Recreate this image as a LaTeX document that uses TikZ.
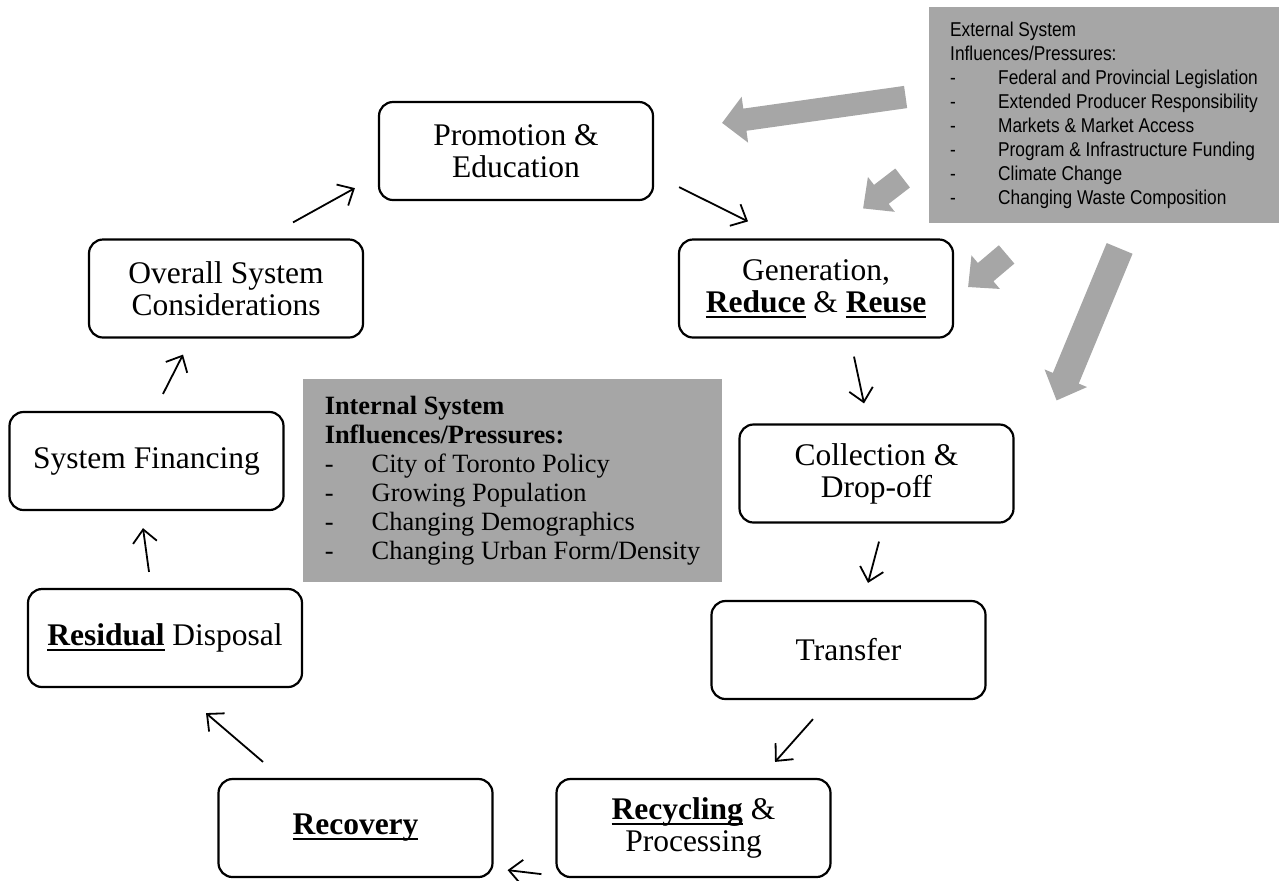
\documentclass[tikz,border=0pt]{standalone}
\usepackage{fontspec}
\setmainfont{Liberation Serif}
\newfontfamily\extfont[FakeStretch=0.865]{Liberation Sans}
\usetikzlibrary{arrows.meta,calc}
\definecolor{pressgray}{RGB}{166,166,166}
\newcommand{\keyword}[1]{\leavevmode\setbox0\hbox{\textbf{#1}}\rlap{\rule[-2.6pt]{\wd0}{1pt}}\box0\relax}
\newcommand{\itemdash}[1]{\makebox[#1][l]{-}}
% grey block arrow: tail, tip, half shaft, half head, head length
\newcommand{\blockarrow}[5]{%
  \coordinate (neck) at ($(#2)!#5!(#1)$);
  \fill[pressure] ($(#1)!#3!90:(#2)$) -- ($(neck)!#3!90:(#2)$) -- ($(neck)!#4!90:(#2)$)
    -- (#2) -- ($(neck)!#4!-90:(#2)$) -- ($(neck)!#3!-90:(#2)$) -- ($(#1)!#3!-90:(#2)$) -- cycle;
}
\begin{document}
\begin{tikzpicture}[x=0.5pt,y=-0.5pt,
  stage/.style={draw,line width=1.1pt,rounded corners=7pt,minimum width=137pt,
    minimum height=49pt,inner sep=0pt,align=center,
    font=\fontsize{15.75}{16}\selectfont},
  flow/.style={line width=0.9pt,-{Straight Barb[length=6.5pt,width=12pt]}},
  pressure/.style={fill=pressgray},
  panel/.style={fill=pressgray,inner sep=0pt,align=left}]
\useasboundingbox (0,0) rectangle (1283,880);

% the cycle
\node[stage] (promo) at (516,151) {Promotion \&\\Education};
\node[stage] (overall) at (226,288.5) {Overall System\\Considerations};
\node[stage] (gen) at (816,288.5) {Generation,\\\keyword{Reduce} \& \keyword{Reuse}};
\node[stage] (fin) at (146.5,461) {System Financing};
\node[stage] (coll) at (876.5,473.5) {Collection \&\\Drop-off};
\node[stage] (resid) at (165,638) {\keyword{Residual} Disposal};
\node[stage] (transfer) at (848.5,650) {Transfer};
\node[stage] (recov) at (355.5,828) {\keyword{Recovery}};
\node[stage] (recyc) at (693.5,828) {\keyword{Recycling} \&\\Processing};

\draw[flow] ([shift={(16.5,-17)}]fin.north) -- ([shift={(-43,16)}]overall.south);
\draw[flow] ([shift={(67,-16)}]overall.north) -- ([shift={(-23,-13)}]promo.south west);
\draw[flow] ([shift={(25,-14)}]promo.south east) -- ([shift={(-68,-17)}]gen.north);
\draw[flow] ([shift={(38,18)}]gen.south) -- ([shift={(-12.5,-20)}]coll.north);
\draw[flow] ([shift={(2.5,18)}]coll.south) -- ([shift={(19.5,-17)}]transfer.north);
\draw[flow] ([shift={(-35.5,19)}]transfer.south) -- ([shift={(81.5,-16)}]recyc.north);
\draw[flow] ([shift={(-14,-4)}]recyc.south west) -- ([shift={(14,-8)}]recov.south east);
\draw[flow] ([shift={(-92.5,-16)}]recov.north) -- ([shift={(41,25)}]resid.south);
\draw[flow] ([shift={(-16,-16)}]resid.north) -- ([shift={(-3.5,17)}]fin.south);

% pressures
\node[panel,minimum width=209.5pt,minimum height=101.5pt,
  font=\fontsize{13.2}{14.5}\selectfont] (internal) at (512.5,480.5)
  {\textbf{Internal System}\\
   \textbf{Influences/Pressures:}\\
   \itemdash{23.5pt}City of Toronto Policy\\
   \itemdash{23.5pt}Growing Population\\
   \itemdash{23.5pt}Changing Demographics\\
   \itemdash{23.5pt}Changing Urban Form/Density};
\node[panel,minimum width=175pt,minimum height=108pt,
  font=\extfont\fontsize{10}{12}\selectfont] (external) at (1104,115)
  {External System\\
   Influences/Pressures:\\
   \itemdash{24pt}Federal and Provincial Legislation\\
   \itemdash{24pt}Extended Producer Responsibility\\
   \itemdash{24pt}Markets \& Market Access\\
   \itemdash{24pt}Program \& Infrastructure Funding\\
   \itemdash{24pt}Climate Change\\
   \itemdash{24pt}Changing Waste Composition};

\coordinate (ext-a) at ([shift={(-23,-18)}]external.west);
\coordinate (ext-b) at ([shift={(-26,63)}]external.west);
\coordinate (ext-c) at ([shift={(78,31)}]external.south west);
\coordinate (ext-d) at ([shift={(191,25)}]external.south west);
\coordinate (hit-a) at ([shift={(68,22)}]promo.north east);
\coordinate (hit-b) at ([shift={(-91,-30)}]gen.north east);
\coordinate (hit-c) at ([shift={(14,-1.5)}]gen.east);
\coordinate (hit-d) at ([shift={(42,-23)}]coll.north east);
\blockarrow{ext-a}{hit-a}{5.6pt}{11.6pt}{11.5pt}
\blockarrow{ext-b}{hit-b}{6pt}{11pt}{11.5pt}
\blockarrow{ext-c}{hit-c}{6pt}{11pt}{11.5pt}
\blockarrow{ext-d}{hit-d}{7pt}{11.5pt}{12pt}
\end{tikzpicture}
\end{document}
